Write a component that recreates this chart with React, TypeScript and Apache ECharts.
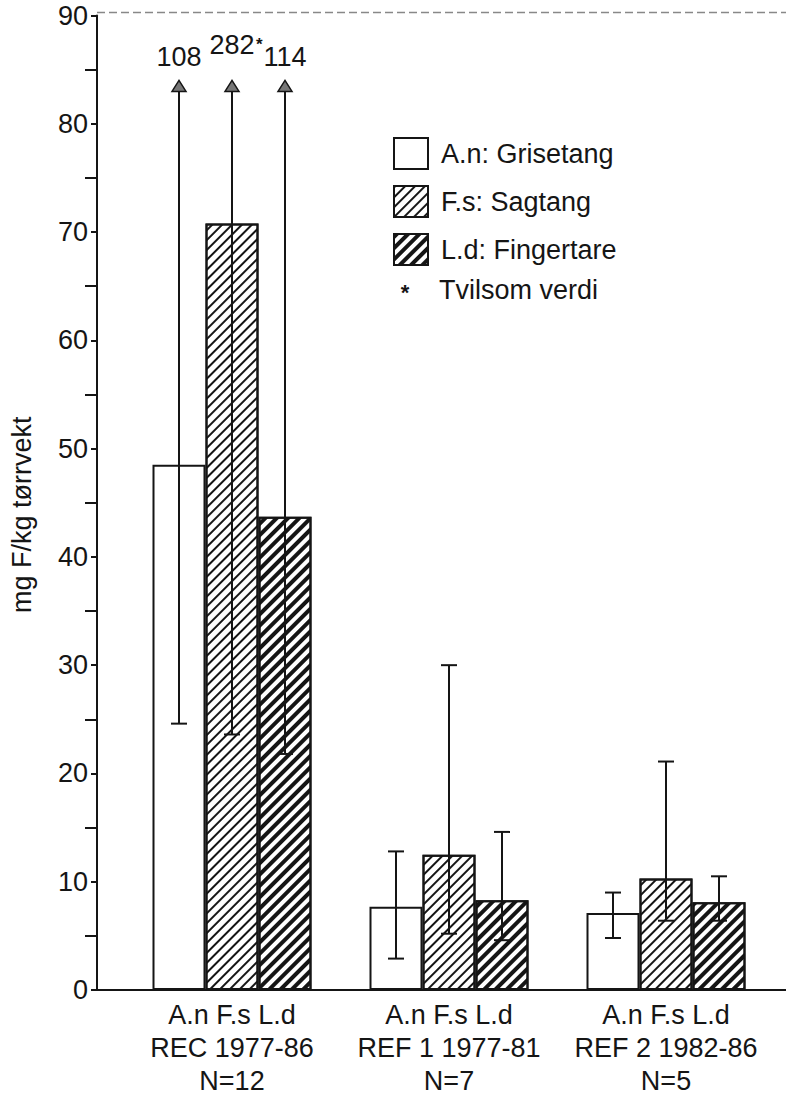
import React, { useEffect, useRef } from "react";
import * as echarts from "echarts";

const categories = ["REC 1977-86", "REF 1 1977-81", "REF 2 1982-86"];
const sampleN = [12, 7, 5];
const speciesShort = ["A.n", "F.s", "L.d"];
const seriesNames = ["A.n: Grisetang", "F.s: Sagtang", "L.d: Fingertare"];

const anMean = [48.5, 7.7, 7.1];
const fsMean = [70.8, 12.5, 10.3];
const ldMean = [43.7, 8.3, 8.1];

const anLow = [24.6, 2.9, 4.8];
const anHigh = [108, 12.8, 9.0];
const fsLow = [23.6, 5.2, 6.4];
const fsHigh = [282, 30.0, 21.1];
const ldLow = [21.8, 4.6, 6.4];
const ldHigh = [114, 14.6, 10.5];
const fsDoubtful = [true, false, false];

const yTicks = { min: 0, max: 90, interval: 10 };
const ARROW_TIP = 84; // where off-scale error bars are drawn up to
const legendNote = "Tvilsom verdi";

const FONT = "'Liberation Sans', Arial, sans-serif";
const INK = "#151515";
const BAR_W = 53;

export default function App() {
  const ref = useRef<HTMLDivElement>(null);

  useEffect(() => {
    const chart = echarts.init(ref.current!, undefined, { renderer: "svg" });

    const means = [anMean, fsMean, ldMean];
    const lows = [anLow, fsLow, ldLow];
    const highs = [anHigh, fsHigh, ldHigh];
    const doubt = [[false, false, false], fsDoubtful, [false, false, false]];

    const errData: number[][] = [];
    for (let s = 0; s < 3; s++) {
      for (let c = 0; c < categories.length; c++) {
        errData.push([c, lows[s][c], highs[s][c], s, doubt[s][c] ? 1 : 0]);
      }
    }

    const decals = [
      undefined,
      {
        symbol: "rect",
        symbolSize: 1,
        dashArrayX: [1, 0],
        dashArrayY: [1.6, 4.8],
        rotation: -Math.PI / 4,
        color: INK,
        backgroundColor: "#fff",
      },
      {
        symbol: "rect",
        symbolSize: 1,
        dashArrayX: [1, 0],
        dashArrayY: [3.6, 3.4],
        rotation: -Math.PI / 4,
        color: INK,
        backgroundColor: "#fff",
      },
    ];

    const barSeries = seriesNames.map((name, i) => ({
      name,
      type: "bar",
      data: means[i],
      barWidth: BAR_W,
      barGap: "0%",
      itemStyle: {
        color: "#fff",
        borderColor: INK,
        borderWidth: 2,
        decal: decals[i],
      },
      z: 2,
    }));

    const errSeries = {
      type: "custom",
      name: "err",
      clip: false,
      z: 5,
      data: errData,
      encode: { x: 0, y: [1, 2] },
      renderItem: (params: any, api: any) => {
        const c = api.value(0);
        const low = api.value(1);
        const high = api.value(2);
        const s = api.value(3);
        const dbt = api.value(4);
        const base = api.coord([c, low]);
        const x = base[0] + (s - 1) * BAR_W;
        const yLow = base[1];
        const lineStyle = { stroke: INK, lineWidth: 2 };
        const children: any[] = [];
        children.push({
          type: "line",
          shape: { x1: x - 8, y1: yLow, x2: x + 8, y2: yLow },
          style: lineStyle,
        });
        if (high > yTicks.max) {
          const tipY = api.coord([c, ARROW_TIP])[1];
          children.push({
            type: "line",
            shape: { x1: x, y1: yLow, x2: x, y2: tipY + 10 },
            style: lineStyle,
          });
          children.push({
            type: "polygon",
            shape: {
              points: [
                [x - 7, tipY + 11],
                [x + 7, tipY + 11],
                [x, tipY],
              ],
            },
            style: { fill: "#777", stroke: INK, lineWidth: 1.5 },
          });
          const lift = dbt ? 22 : 10;
          children.push({
            type: "text",
            x: x,
            y: tipY - lift,
            style: {
              text: String(high),
              fill: INK,
              font: `27px ${FONT}`,
              align: "center",
              verticalAlign: "bottom",
            },
          });
          if (dbt) {
            children.push({
              type: "text",
              x: x + 24,
              y: tipY - 36,
              style: {
                text: "*",
                fill: INK,
                font: `bold 17px ${FONT}`,
                align: "left",
                verticalAlign: "middle",
              },
            });
          }
        } else {
          const yHigh = api.coord([c, high])[1];
          children.push({
            type: "line",
            shape: { x1: x, y1: yLow, x2: x, y2: yHigh },
            style: lineStyle,
          });
          children.push({
            type: "line",
            shape: { x1: x - 8, y1: yHigh, x2: x + 8, y2: yHigh },
            style: lineStyle,
          });
        }
        return { type: "group", children };
      },
    };

    chart.setOption({
      animation: false,
      backgroundColor: "#fff",
      textStyle: { fontFamily: FONT, color: INK },
      grid: { left: 123.5, width: 651, top: 15.5, bottom: 105 },
      legend: {
        data: seriesNames,
        orient: "vertical",
        left: 388,
        top: 132,
        icon: "rect",
        itemWidth: 34,
        itemHeight: 31,
        itemGap: 15,
        selectedMode: false,
        textStyle: {
          fontSize: 27,
          fontFamily: FONT,
          color: INK,
          padding: [0, 0, 0, 8],
        },
        itemStyle: { borderColor: INK, borderWidth: 2 },
      },
      xAxis: {
        type: "category",
        data: categories,
        axisLine: { show: false },
        axisTick: { show: false },
        axisLabel: {
          interval: 0,
          margin: 8,
          fontSize: 27,
          lineHeight: 33,
          color: INK,
          fontFamily: FONT,
          formatter: (v: string, i: number) =>
            `${speciesShort.join(" ")}\n${v}\nN=${sampleN[i]}`,
        },
      },
      yAxis: {
        type: "value",
        min: yTicks.min,
        max: yTicks.max,
        interval: yTicks.interval,
        offset: 26.5,
        name: "mg F/kg tørrvekt",
        nameLocation: "middle",
        nameRotate: 90,
        nameGap: 62,
        nameTextStyle: {
          fontSize: 27,
          color: INK,
          fontFamily: FONT,
          padding: [0, 24, 0, 0],
        },
        splitLine: { show: false },
        axisLine: { show: true, lineStyle: { color: INK, width: 2 } },
        axisTick: { show: true, length: 6, lineStyle: { color: INK, width: 2 } },
        minorTick: {
          show: true,
          splitNumber: 2,
          length: 12,
          lineStyle: { color: INK, width: 2 },
        },
        axisLabel: { fontSize: 27, color: INK, margin: 9, fontFamily: FONT },
      },
      series: [...barSeries, errSeries],
    });

    const y0 = chart.convertToPixel({ yAxisIndex: 0 }, yTicks.min) as number;
    const yTop = chart.convertToPixel({ yAxisIndex: 0 }, yTicks.max) as number;
    const axisX = 123.5 - 26.5;
    const width = chart.getWidth();
    const noteY = 290;

    chart.setOption({
      graphic: [
        {
          type: "line",
          shape: { x1: axisX, y1: y0, x2: width, y2: y0 },
          style: { stroke: INK, lineWidth: 2 },
          z: 10,
        },
        {
          type: "line",
          shape: { x1: axisX, y1: yTop - 3, x2: width, y2: yTop - 3 },
          style: { stroke: "#888", lineWidth: 1.5, lineDash: [8, 4] },
          z: 10,
        },
        {
          type: "text",
          x: 405,
          y: noteY + 2,
          style: {
            text: "*",
            font: `bold 22px ${FONT}`,
            fill: INK,
            align: "center",
            verticalAlign: "middle",
          },
        },
        {
          type: "text",
          x: 439,
          y: noteY,
          style: {
            text: legendNote,
            font: `27px ${FONT}`,
            fill: INK,
            align: "left",
            verticalAlign: "middle",
          },
        },
      ],
    });

    return () => chart.dispose();
  }, []);

  return (
    <div
      ref={ref}
      style={{ position: "fixed", left: 0, top: 0, width: 786, height: 1097, background: "#fff" }}
    />
  );
}
